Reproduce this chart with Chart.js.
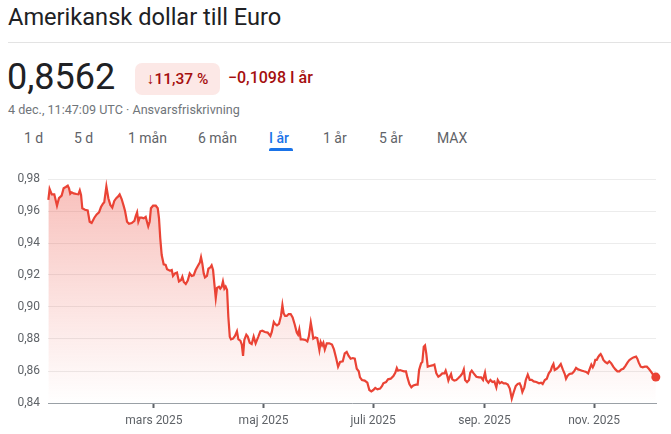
<!DOCTYPE html>
<html>
<head>
<meta charset="utf-8">
<script src="https://cdn.jsdelivr.net/npm/chart.js@4/dist/chart.umd.min.js"></script>
<style>
  html, body { margin:0; padding:0; background:#fff; }
  body { width:671px; height:434px; position:relative; overflow:hidden; font-family: Roboto, Arial, sans-serif; }
  .abs { position:absolute; white-space:nowrap; }
  #title { left:8px; top:3px; font-size:23.6px; color:#202124; }
  #divider { left:8px; top:42px; width:663px; height:1px; background:#e3e3e3; }
  #price { left:7px; top:56px; font-size:36px; color:#202124; }
  #badge { left:135px; top:63px; width:85px; height:32px; background:#fce8e6; border-radius:7px; color:#a50e0e; font-size:15.5px; font-weight:500; line-height:32px; text-align:center; }
  #delta { left:228px; top:68px; font-size:16px; color:#a50e0e; font-weight:500; }
  #sub { left:8px; top:102px; font-size:12.6px; color:#70757a; }
  .tab { top:130px; font-size:14px; font-weight:400; color:#5f6368; }
  .tab.active { color:#1a73e8; font-weight:500; }
  #underline { left:269px; top:148px; width:24px; height:3px; background:#1a73e8; border-radius:2px 2px 0 0; }
  #c { position:absolute; left:0; top:0; }
</style>
</head>
<body>
<div class="abs" id="title">Amerikansk dollar till Euro</div>
<div class="abs" id="divider"></div>
<div class="abs" id="price">0,8562</div>
<div class="abs" id="badge">↓11,37 %</div>
<div class="abs" id="delta">−0,1098 I år</div>
<div class="abs" id="sub">4 dec., 11:47:09 UTC · Ansvarsfriskrivning</div>
<div class="abs tab" style="left:24px">1 d</div>
<div class="abs tab" style="left:74px">5 d</div>
<div class="abs tab" style="left:128px">1 mån</div>
<div class="abs tab" style="left:198px">6 mån</div>
<div class="abs tab active" style="left:269px">I år</div>
<div class="abs" id="underline"></div>
<div class="abs tab" style="left:323px">1 år</div>
<div class="abs tab" style="left:379px">5 år</div>
<div class="abs tab" style="left:437px">MAX</div>
<canvas id="c" width="671" height="434"></canvas>
<script>
// day offsets (days since 1 Jan 2025) and USD->EUR rates
const days = [0.2,0.9,2.1,3.5,5.0,6.1,7.6,8.7,9.9,11.0,11.7,12.4,13.2,14.3,15.8,16.9,17.7,18.4,19.1,20.6,22.1,23.2,24.3,25.8,27.1,28.4,29.5,30.6,31.3,32.5,33.6,34.7,35.8,36.9,38.0,38.8,39.9,41.0,42.2,42.9,44.0,45.1,46.6,48.1,48.8,49.6,50.3,51.1,52.2,53.3,54.4,55.1,55.8,56.6,57.3,58.5,60.0,61.1,61.8,62.5,63.3,64.4,65.5,66.3,67.8,68.9,69.6,70.7,71.8,72.9,74.1,74.8,75.6,76.7,77.8,78.9,80.0,81.1,82.2,83.4,84.5,85.2,85.9,86.7,87.4,88.5,89.3,90.4,91.1,91.9,92.6,93.4,94.1,95.2,95.9,96.7,97.4,98.2,98.9,99.7,100.4,101.2,101.9,103.0,104.1,105.2,106.0,107.1,107.9,108.6,109.3,110.4,111.2,112.3,113.4,114.5,115.6,117.1,118.2,119.3,120.8,122.3,123.8,124.6,125.7,126.4,127.5,128.6,129.7,130.5,131.2,132.0,132.9,134.0,135.1,136.2,137.4,138.5,139.2,139.9,140.7,141.8,143.3,144.4,145.2,146.3,147.0,147.7,148.8,149.9,151.1,151.8,152.6,153.3,154.1,155.2,156.6,158.1,159.2,160.4,161.5,162.6,164.1,165.2,166.3,167.4,168.5,169.7,170.8,171.9,173.0,173.7,174.8,176.3,177.8,178.9,180.0,181.1,182.2,183.4,184.9,186.0,186.7,188.2,189.3,190.8,192.3,193.4,194.2,194.9,196.0,197.1,198.2,199.3,200.1,201.2,202.3,203.4,204.9,205.8,206.6,207.7,208.4,209.2,209.9,210.6,211.4,212.5,214.0,215.1,216.2,217.3,218.4,219.5,220.7,221.4,222.2,222.9,223.7,224.4,225.1,226.2,227.3,228.5,229.6,230.7,231.5,232.2,233.3,234.4,235.1,235.9,237.0,238.5,240.0,241.1,242.2,243.3,244.0,245.2,246.3,247.4,248.5,249.6,250.4,251.5,252.6,253.7,254.8,256.0,257.1,258.2,259.3,260.4,261.5,262.6,263.4,264.1,265.2,266.0,267.1,268.2,269.3,270.4,271.9,273.4,274.5,275.4,276.6,277.7,278.8,279.9,280.6,281.4,282.1,283.2,284.4,285.5,286.6,287.7,288.4,289.2,290.3,291.8,292.9,294.0,295.1,296.2,297.3,298.4,299.6,300.7,301.8,302.5,303.3,304.0,304.7,305.5,306.2,307.0,307.7,308.5,309.2,310.3,311.4,312.5,313.6,314.7,315.9,317.0,318.1,319.2,320.3,321.4,322.6,323.7,324.8,325.9,327.4,328.1,328.9,330.0,331.1,332.2,333.4,334.5,335.6,336.7,338.4];
const rates = [0.9669,0.9738,0.9704,0.9704,0.9633,0.968,0.9696,0.9742,0.975,0.9758,0.9742,0.9708,0.9717,0.971,0.9706,0.9704,0.9729,0.97,0.9617,0.9608,0.9604,0.9533,0.9525,0.9558,0.9579,0.9592,0.9625,0.9646,0.9654,0.9754,0.968,0.9638,0.9621,0.9663,0.968,0.9688,0.9704,0.9675,0.9629,0.96,0.9533,0.952,0.9525,0.9538,0.9567,0.9592,0.9533,0.9558,0.9558,0.9554,0.9563,0.9533,0.9504,0.9533,0.9617,0.9633,0.9633,0.9617,0.9554,0.9429,0.9325,0.9267,0.9263,0.9236,0.9227,0.9231,0.9194,0.921,0.9215,0.916,0.9169,0.9189,0.9156,0.9144,0.9165,0.921,0.9194,0.9198,0.9231,0.9256,0.9277,0.9311,0.9273,0.921,0.9185,0.9194,0.9239,0.9248,0.926,0.9231,0.9148,0.9056,0.9119,0.9127,0.9115,0.9127,0.916,0.9115,0.9127,0.9106,0.8939,0.8815,0.8798,0.8802,0.8819,0.8848,0.8798,0.879,0.8765,0.8694,0.8794,0.8827,0.8815,0.8777,0.8769,0.8815,0.8773,0.8815,0.8848,0.8852,0.8844,0.884,0.8819,0.8844,0.8906,0.8894,0.8885,0.8894,0.8944,0.9012,0.896,0.8944,0.8944,0.8956,0.8956,0.8935,0.8889,0.884,0.8827,0.886,0.8798,0.8798,0.8794,0.8785,0.8815,0.8902,0.8856,0.8802,0.881,0.8806,0.8731,0.8781,0.876,0.8777,0.8735,0.8773,0.8773,0.8765,0.8735,0.8681,0.8627,0.8656,0.866,0.871,0.8719,0.8694,0.8677,0.8681,0.8677,0.8614,0.8598,0.856,0.8544,0.854,0.8527,0.8481,0.8473,0.8481,0.8494,0.8485,0.849,0.8506,0.8523,0.8531,0.8548,0.8552,0.8569,0.859,0.8619,0.8602,0.8606,0.8602,0.8598,0.8598,0.856,0.8519,0.8498,0.851,0.8515,0.8515,0.8606,0.8648,0.8656,0.8752,0.876,0.871,0.8627,0.8631,0.8635,0.864,0.8585,0.8564,0.8573,0.8585,0.8585,0.8602,0.8573,0.854,0.8564,0.8581,0.8548,0.854,0.8544,0.8556,0.8569,0.8585,0.861,0.8544,0.8531,0.8544,0.859,0.8602,0.8585,0.8564,0.856,0.856,0.8544,0.859,0.8544,0.8527,0.8544,0.8531,0.8535,0.8498,0.8544,0.8523,0.8531,0.8523,0.8523,0.8515,0.849,0.8427,0.8469,0.8506,0.8519,0.8523,0.8502,0.8469,0.8498,0.8544,0.8577,0.8544,0.8544,0.8535,0.8531,0.8523,0.8527,0.8519,0.8544,0.8552,0.8585,0.8602,0.8627,0.8644,0.8606,0.8614,0.8627,0.8644,0.861,0.8581,0.8552,0.8569,0.8581,0.8585,0.8598,0.8619,0.861,0.8606,0.8602,0.8598,0.8594,0.8585,0.8619,0.864,0.8623,0.864,0.8669,0.8669,0.8685,0.8698,0.8706,0.869,0.8669,0.8656,0.8648,0.866,0.8648,0.8627,0.861,0.8598,0.8598,0.861,0.8614,0.8631,0.8652,0.8669,0.8677,0.8685,0.869,0.8677,0.8652,0.8627,0.8623,0.8627,0.8627,0.8614,0.8598,0.858,0.8562];
const tickDays = [59, 120, 181, 243, 304];
const tickLabels = ["mars 2025", "maj 2025", "juli 2025", "sep. 2025", "nov. 2025"];
const yTicks = [0.84, 0.86, 0.88, 0.90, 0.92, 0.94, 0.96, 0.98];

const points = days.map((d, i) => ({ x: d, y: rates[i] }));
const lineColor = '#ea4335';
const ctx = document.getElementById('c').getContext('2d');

new Chart(ctx, {
  type: 'line',
  data: {
    datasets: [{
      data: points,
      borderColor: lineColor,
      borderWidth: 2.2,
      tension: 0,
      clip: false,
      fill: 'start',
      backgroundColor: (c) => {
        const a = c.chart.chartArea;
        if (!a) return 'rgba(234,67,53,0.2)';
        const g = c.chart.ctx.createLinearGradient(0, a.top, 0, a.bottom);
        g.addColorStop(0, 'rgba(234,67,53,0.34)');
        g.addColorStop(1, 'rgba(234,67,53,0.0)');
        return g;
      },
      pointRadius: (c) => c.dataIndex === rates.length - 1 ? 4.5 : 0,
      pointBackgroundColor: lineColor,
      pointBorderColor: lineColor,
      pointBorderWidth: 0
    }]
  },
  options: {
    responsive: false,
    animation: false,
    events: [],
    layout: { padding: { top: 179, right: 15, bottom: 0, left: 0 } },
    plugins: { legend: { display: false }, tooltip: { enabled: false } },
    scales: {
      x: {
        type: 'linear',
        min: 0,
        max: 338.5,
        afterBuildTicks: (s) => { s.ticks = tickDays.map(v => ({ value: v })); },
        afterFit: (s) => { s.height = 31; },
        ticks: {
          autoSkip: false,
          maxRotation: 0,
          padding: 6,
          color: '#5f6368',
          font: { family: 'Roboto', size: 12 },
          callback: (v) => { const i = tickDays.indexOf(v); return i >= 0 ? tickLabels[i] : ''; }
        },
        grid: { drawOnChartArea: false, drawTicks: true, tickLength: 5, tickWidth: 2, tickColor: '#5f6368' },
        border: { display: true, color: '#9aa0a6', width: 1 }
      },
      y: {
        min: 0.84,
        max: 0.98,
        afterBuildTicks: (s) => { s.ticks = yTicks.map(v => ({ value: v })); },
        afterFit: (s) => { s.width = 48; },
        ticks: {
          padding: 8,
          color: '#5f6368',
          font: { family: 'Roboto', size: 12 },
          callback: (v) => v.toFixed(2).replace('.', ',')
        },
        grid: { color: '#ececec', lineWidth: 1, drawTicks: false },
        border: { display: false }
      }
    }
  }
});
</script>
</body>
</html>
